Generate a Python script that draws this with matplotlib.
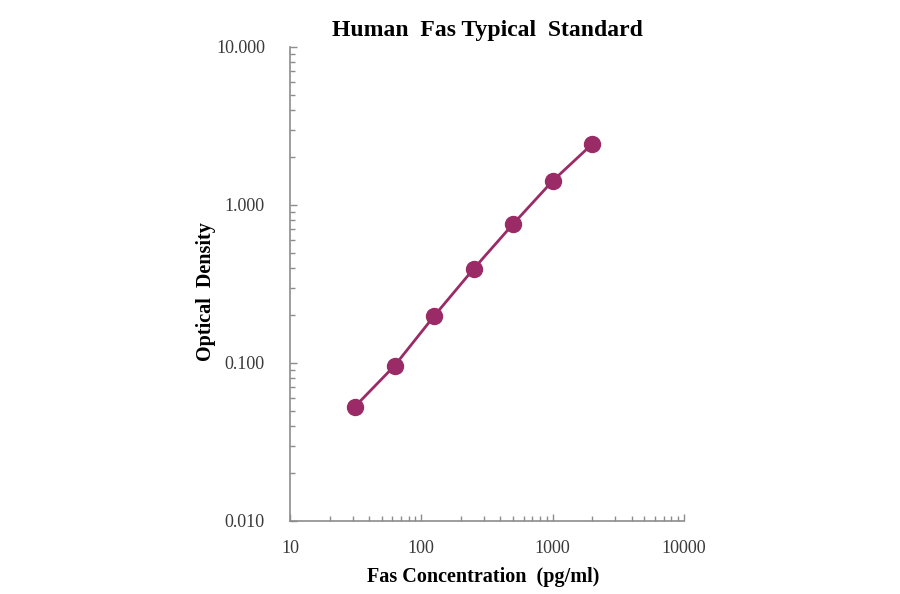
import matplotlib
matplotlib.use("Agg")
import matplotlib.pyplot as plt
from matplotlib.ticker import LogLocator, FixedFormatter, FixedLocator, NullFormatter

# ---------------------------------------------------------------------------
# DATA
# ---------------------------------------------------------------------------
concentration = [31.25, 62.5, 125, 250, 500, 1000, 2000]
optical_density = [0.053, 0.096, 0.198, 0.394, 0.758, 1.42, 2.43]
xtick_values = [10, 100, 1000, 10000]
xtick_labels = ["10", "100", "1000", "10000"]
ytick_values = [0.01, 0.1, 1, 10]
ytick_labels = ["0.010", "0.100", "1.000", "10.000"]
# ---------------------------------------------------------------------------

plt.rcParams['font.family'] = ['Liberation Serif', 'DejaVu Serif']
colour = "#9b2b66"
axis_grey = "#8c8c8c"

fig = plt.figure(figsize=(9, 5.94), dpi=100)
ax = fig.add_axes([0.3222, 0.1229, 0.4378, 0.798])

ax.plot(concentration, optical_density, c=colour, linewidth=2,
        marker="o", markersize=11.5, markerfacecolor=colour, markeredgecolor=colour)

ax.set_xscale("log")
ax.set_yscale("log")
ax.set_xlim(10, 10000)
ax.set_ylim(0.01, 10)

ax.xaxis.set_major_locator(FixedLocator(xtick_values))
ax.xaxis.set_major_formatter(FixedFormatter(xtick_labels))
ax.yaxis.set_major_locator(FixedLocator(ytick_values))
ax.yaxis.set_major_formatter(FixedFormatter(ytick_labels))
ax.xaxis.set_minor_locator(LogLocator(base=10, subs=range(2, 10)))
ax.yaxis.set_minor_locator(LogLocator(base=10, subs=range(2, 10)))
ax.xaxis.set_minor_formatter(NullFormatter())
ax.yaxis.set_minor_formatter(NullFormatter())

ax.spines["top"].set_visible(False)
ax.spines["right"].set_visible(False)
for s in ["left", "bottom"]:
    ax.spines[s].set_color(axis_grey)
    ax.spines[s].set_linewidth(1.2)

ax.tick_params(which="major", direction="in", length=5, width=1, color=axis_grey,
               labelsize=13, labelcolor="#3a3a3a", pad=14)
ax.tick_params(which="minor", direction="in", length=3.5, width=1, color=axis_grey)
ax.tick_params(axis="y", which="major", pad=18)

ax.set_title("Human  Fas Typical  Standard", fontsize=17, fontweight="bold", pad=8)
ax.set_xlabel("Fas Concentration  (pg/ml)", fontsize=14.5, fontweight="bold")
ax.set_ylabel("Optical  Density", fontsize=14.5, fontweight="bold")
ax.xaxis.set_label_coords(0.49, -0.097)
ax.yaxis.set_label_coords(-0.188, 0.485)

fig.savefig("out.png", dpi=100)
